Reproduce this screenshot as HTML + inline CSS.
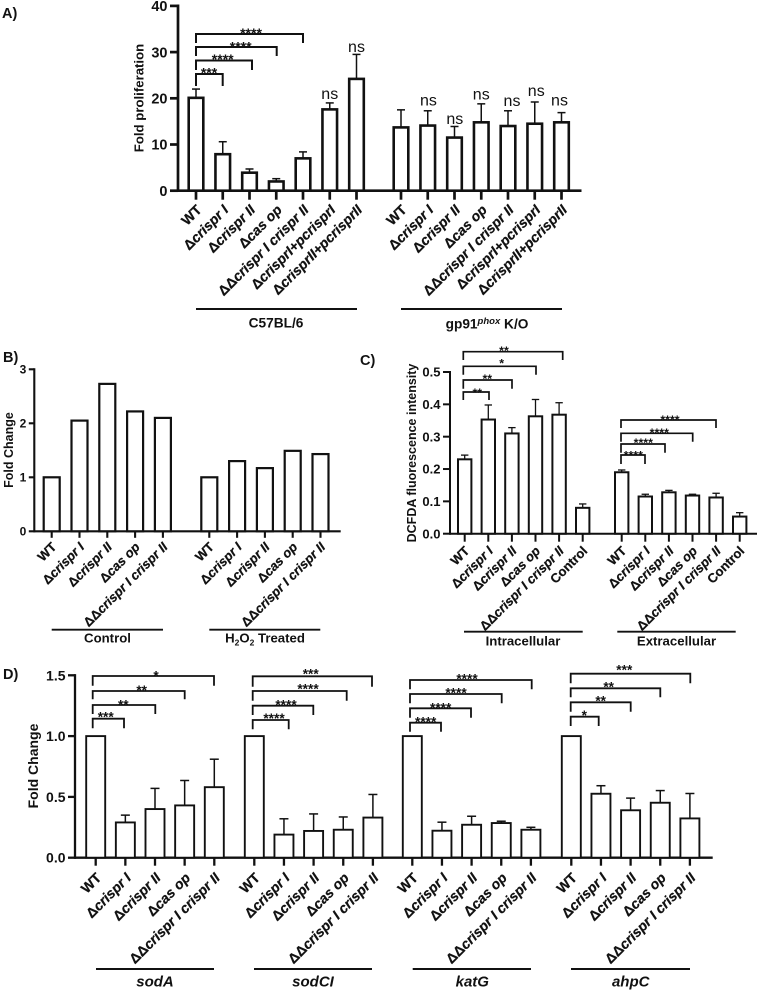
<!DOCTYPE html>
<html lang="en">
<head>
<meta charset="utf-8">
<title>Panels A-D: fold proliferation and oxidative stress bar charts</title>
<style>
html,body{margin:0;padding:0;background:#fff;width:759px;height:992px;overflow:hidden}
svg{display:block}
text{font-family:"Liberation Sans","DejaVu Sans",sans-serif;fill:#111}
</style>
</head>
<body>
<svg id="figure" width="759" height="992" viewBox="0 0 759 992" xmlns="http://www.w3.org/2000/svg"></svg>
<script>
/* ---------- data ---------- */
const sevenStrains = ['WT','Δcrispr I','Δcrispr II','Δcas op','ΔΔcrispr I crispr II','ΔcrisprI+pcrisprI','ΔcrisprII+pcrisprII'];
const fiveStrains = ['WT','Δcrispr I','Δcrispr II','Δcas op','ΔΔcrispr I crispr II'];
const sixStrains = ['WT','Δcrispr I','Δcrispr II','Δcas op','ΔΔcrispr I crispr II','Control'];

const aTicks = ['0','10','20','30','40'];
const aC57Values = [20.1,7.9,3.9,2.0,7.0,17.6,24.2];
const aC57Errors = [1.9,2.7,0.8,0.6,1.4,1.4,5.3];
const aGpValues = [13.7,14.1,11.5,14.8,14.0,14.5,14.8];
const aGpErrors = [3.8,3.2,2.4,4.0,3.3,4.7,2.1];
const aSig = ['***','****','****','****'];

const bTicks = ['0','1','2','3'];
const bControlValues = [1.0,2.05,2.73,2.22,2.1];
const bTreatedValues = [1.0,1.3,1.17,1.49,1.43];

const cTicks = ['0.0','0.1','0.2','0.3','0.4','0.5'];
const cIntraValues = [0.23,0.353,0.31,0.363,0.368,0.08];
const cIntraErrors = [0.013,0.045,0.018,0.052,0.037,0.012];
const cExtraValues = [0.19,0.115,0.128,0.118,0.112,0.053];
const cExtraErrors = [0.007,0.007,0.006,0.004,0.013,0.012];
const cIntraSig = ['**','**','*','**'];
const cExtraSig = ['****','****','****','****'];

const dTicks = ['0.0','0.5','1.0','1.5'];
const dSodAValues = [1.0,0.29,0.40,0.43,0.58];
const dSodAErrors = [0,0.06,0.17,0.205,0.23];
const dSodCIValues = [1.0,0.19,0.22,0.23,0.33];
const dSodCIErrors = [0,0.13,0.14,0.105,0.19];
const dKatGValues = [1.0,0.222,0.271,0.285,0.23];
const dKatGErrors = [0,0.07,0.07,0.015,0.02];
const dAhpCValues = [1.0,0.526,0.39,0.452,0.323];
const dAhpCErrors = [0,0.066,0.1,0.1,0.205];
const dSodASig = ['***','**','**','*'];
const dSodCISig = ['****','****','****','***'];
const dKatGSig = ['****','****','****','****'];
const dAhpCSig = ['*','**','**','***'];

/* ---------- helpers ---------- */
const NS = 'http://www.w3.org/2000/svg';
const svg = document.getElementById('figure');
const INK = '#111';

function make(tag, attrs, parent) {
  const el = document.createElementNS(NS, tag);
  for (const k in attrs) el.setAttribute(k, attrs[k]);
  (parent || svg).appendChild(el);
  return el;
}
function line(parent, x1, y1, x2, y2, w) {
  return make('line', {x1, y1, x2, y2, stroke: INK, 'stroke-width': w}, parent);
}
function group(name) {
  const g = make('g', {});
  
  
  return g;
}
function slug(s) {
  return s.toLowerCase().replace(/δ/g, 'delta-').replace(/[^a-z0-9]+/g, '-').replace(/-$/, '');
}

function panelLabel(text, x, y) {
  const t = make('text', {x, y, 'font-size': 14.5, 'font-weight': 'bold'});
  t.textContent = text;
  
  
}

/* axis: p = {id,y0,k,axisX,axisEnd,tickLen,axisW,tickFont,...} */
function yPos(p, v) { return p.y0 - v * p.k; }

function drawAxes(p, ticks, title) {
  const g = group(p.id + '-axes');
  const top = yPos(p, parseFloat(ticks[ticks.length - 1]));
  const yAxis = line(g, p.axisX, top - p.axisW / 2, p.axisX, p.y0 + p.axisW / 2, p.axisW);
  
  
  const xAxis = line(g, p.axisX, p.y0, p.axisEnd, p.y0, p.axisW);
  
  
  ticks.forEach(function (label) {
    const y = yPos(p, parseFloat(label));
    const tick = line(g, p.axisX - p.tickLen, y, p.axisX, y, p.axisW);
    
    
    const t = make('text', {x: p.axisX - p.tickLen - 2.5, y: y + p.tickFont * 0.36, 'text-anchor': 'end', 'font-size': p.tickFont, 'font-weight': 'bold'}, g);
    t.textContent = label;
    
    
  });
  const ty = make('text', {transform: 'translate(' + p.titleX + ',' + p.titleY + ') rotate(-90)', 'text-anchor': 'middle', 'font-size': p.titleFont, 'font-weight': 'bold'}, g);
  ty.textContent = title;
  
  
}

function drawCategoryLabel(g, p, text, x) {
  const t = make('text', {transform: 'translate(' + (x + p.labelDx) + ',' + (p.y0 + p.labelDy) + ') rotate(-45)', 'text-anchor': 'end', 'font-size': p.labelFont, 'font-weight': 'bold', stroke: INK, 'stroke-width': 0.25}, g);
  const m = text.match(/^(Δ+)(.*)$/);
  if (m) {
    const d = make('tspan', {}, t);
    d.textContent = m[1];
    const r = make('tspan', {'font-style': 'italic'}, t);
    r.textContent = m[2];
  } else {
    t.textContent = text;
  }
  
  
}

function drawSeries(p, name, cats, values, errors, x0, step) {
  const g = group(p.id + '-series-' + name);
  const xOf = function (i) { return x0 + i * step; };
  cats.forEach(function (cat, i) {
    const x = xOf(i);
    const yv = yPos(p, values[i]);
    if (errors && errors[i] > 0) {
      const ye = yPos(p, values[i] + errors[i]);
      const stem = line(g, x, yv, x, ye, p.errW);
      
      
      const cap = line(g, x - p.capHalf, ye, x + p.capHalf, ye, p.errW);
      
      
    }
    const bar = make('rect', {x: x - p.barW / 2, y: yv, width: p.barW, height: p.y0 - yv, fill: '#fff', stroke: INK, 'stroke-width': p.barStroke}, g);
    
    
    const tick = line(g, x, p.y0, x, p.y0 + p.tickLen + 1, p.axisW);
    
    
    drawCategoryLabel(g, p, cat, x);
  });
  return {xOf: xOf, values: values, errors: errors, g: g};
}

function bracket(parent, x1, x2, yTop, drop1, drop2, w) {
  const b = make('path', {d: 'M' + x1 + ' ' + (yTop + drop1) + 'V' + yTop + 'H' + x2 + 'V' + (yTop + drop2), fill: 'none', stroke: INK, 'stroke-width': w}, parent);
  
  
}
function stars(parent, text, cx, cy, size) {
  const t = make('text', {x: cx, y: cy + size * 0.56, 'text-anchor': 'middle', 'font-size': size, 'font-weight': 'bold'}, parent);
  t.textContent = text;
  
  
}
function sigSet(name, sig, left, w, size, rows) {
  const g = group(name);
  rows.forEach(function (r, i) {
    bracket(g, left, r[0], r[1], r[2], r[2], w);
    stars(g, sig[i], r[3], r[4], size);
  });
}
function groupLine(name, x1, x2, y, w) {
  const l = line(svg, x1, y, x2, y, w);
  
  
}
function groupText(name, x, y, size, italic) {
  const t = make('text', {x, y, 'text-anchor': 'middle', 'font-size': size, 'font-weight': 'bold', 'font-style': italic ? 'italic' : 'normal'});
  t.textContent = name;
  
  
  return t;
}
function nsLabel(series, i, dx, gap, size) {
  const p = series.panel;
  const t = make('text', {x: series.xOf(i) + dx, y: yPos(p, series.values[i] + series.errors[i]) - gap, 'text-anchor': 'middle', 'font-size': size}, series.g);
  t.textContent = 'ns';
  
  
}

/* ---------- panel A ---------- */
panelLabel('A)', 2, 18);
const pA = {id:'panel-a', y0:190.7, k:4.62, axisX:178, axisEnd:581.5, tickLen:8, axisW:2.7, tickFont:14.5,
  titleX:143.5, titleY:98, titleFont:13.2, labelDx:6.5, labelDy:20, labelFont:14,
  barW:14.6, barStroke:2.6, errW:1.5, capHalf:4, };
drawAxes(pA, aTicks, 'Fold proliferation');
const sA1 = drawSeries(pA, 'c57bl6', sevenStrains, aC57Values, aC57Errors, 196, 26.75);
sA1.panel = pA;
const sA2 = drawSeries(pA, 'gp91phox', sevenStrains, aGpValues, aGpErrors, 401, 26.75);
sA2.panel = pA;
nsLabel(sA1, 5, 0, 4, 16);
nsLabel(sA1, 6, 0, 2.5, 16);
nsLabel(sA2, 1, 0.7, 5.5, 16);
nsLabel(sA2, 2, 0.3, 2.5, 16);
nsLabel(sA2, 3, 0, 4.3, 16);
nsLabel(sA2, 4, 4, 5, 16);
nsLabel(sA2, 5, 1.5, 6, 16);
nsLabel(sA2, 6, -2, 7, 16);
sigSet('panel-a-brackets', aSig, 196, 2, 14, [
  [222.7, 74, 12, 209, 69.7],
  [252, 60.5, 9.5, 222.7, 56],
  [276.7, 47, 9, 240.7, 43.5],
  [303, 34, 9, 251, 30]
]);
groupLine('c57bl6', 196, 357, 309, 2);
groupLine('gp91phox', 401, 562, 309, 2);
groupText('C57BL/6', 276, 327.3, 13.7);
(function () {
  const t = make('text', {x: 487, y: 328.3, 'text-anchor': 'middle', 'font-size': 13.7, 'font-weight': 'bold'});
  
  
  const a = make('tspan', {}, t); a.textContent = 'gp91';
  const b = make('tspan', {dy: -4.5, 'font-size': 9.5, 'font-style': 'italic'}, t); b.textContent = 'phox';
  const c = make('tspan', {dy: 4.5}, t); c.textContent = ' K/O';
})();

/* ---------- panel B ---------- */
panelLabel('B)', 3, 362);
const pB = {id:'panel-b', y0:531.3, k:54, axisX:34.3, axisEnd:340.7, tickLen:5.5, axisW:2.1, tickFont:12,
  titleX:13, titleY:450, titleFont:12.5, labelDx:5.5, labelDy:16.5, labelFont:13,
  barW:16, barStroke:2.2, errW:1.4, capHalf:4};
drawAxes(pB, bTicks, 'Fold Change');
drawSeries(pB, 'control', fiveStrains, bControlValues, null, 51.7, 27.8);
drawSeries(pB, 'h2o2-treated', fiveStrains, bTreatedValues, null, 209.3, 27.8);
groupLine('control', 51.7, 163, 629.7, 1.8);
groupLine('h2o2-treated', 209.3, 320.3, 629.7, 1.8);
groupText('Control', 107.5, 642.7, 13.2);
(function () {
  const t = make('text', {x: 265, y: 642.7, 'text-anchor': 'middle', 'font-size': 13.2, 'font-weight': 'bold'});
  
  
  const a = make('tspan', {}, t); a.textContent = 'H';
  const b = make('tspan', {dy: 3, 'font-size': 8.5}, t); b.textContent = '2';
  const c = make('tspan', {dy: -3}, t); c.textContent = 'O';
  const d = make('tspan', {dy: 3, 'font-size': 8.5}, t); d.textContent = '2';
  const e = make('tspan', {dy: -3}, t); e.textContent = ' Treated';
})();

/* ---------- panel C ---------- */
panelLabel('C)', 360, 365);
const pC = {id:'panel-c', y0:533.7, k:323.4, axisX:450, axisEnd:757, tickLen:7, axisW:2, tickFont:13,
  titleX:416, titleY:453, titleFont:12.5, labelDx:5.5, labelDy:18, labelFont:13,
  barW:13.4, barStroke:2, errW:1.3, capHalf:3.7};
drawAxes(pC, cTicks, 'DCFDA fluorescence intensity');
drawSeries(pC, 'intracellular', sixStrains, cIntraValues, cIntraErrors, 464.7, 23.6);
drawSeries(pC, 'extracellular', sixStrains, cExtraValues, cExtraErrors, 621.7, 23.6);
sigSet('panel-c-intracellular-brackets', cIntraSig, 463.3, 1.7, 12.4, [
  [489, 392, 8, 477.3, 390],
  [512, 380, 8.7, 487.3, 376],
  [536, 366.3, 8.4, 501.7, 360.7],
  [562.7, 351.7, 8.3, 504, 348]
]);
sigSet('panel-c-extracellular-brackets', cExtraSig, 621, 1.7, 12.4, [
  [645, 455, 9, 633.3, 452.7],
  [665, 444, 8.7, 643.3, 440],
  [692.7, 433.3, 8.4, 659.3, 430],
  [716, 420, 8, 670, 417]
]);
groupLine('intracellular', 464, 582.7, 631.7, 1.8);
groupLine('extracellular', 617.3, 735.7, 631.7, 1.8);
groupText('Intracellular', 523, 645.3, 13.2);
groupText('Extracellular', 676.5, 645.3, 13.2);

/* ---------- panel D ---------- */
panelLabel('D)', 3, 679);
const pD = {id:'panel-d', y0:857.7, k:121.6, axisX:75, axisEnd:712.7, tickLen:7, axisW:2.3, tickFont:14,
  titleX:38, titleY:766, titleFont:14, labelDx:6.5, labelDy:21, labelFont:14,
  barW:19, barStroke:1.9, errW:1.5, capHalf:4.5};
drawAxes(pD, dTicks, 'Fold Change');
drawSeries(pD, 'soda', fiveStrains, dSodAValues, dSodAErrors, 95.7, 29.65);
drawSeries(pD, 'sodci', fiveStrains, dSodCIValues, dSodCIErrors, 254.3, 29.65);
drawSeries(pD, 'katg', fiveStrains, dKatGValues, dKatGErrors, 412.3, 29.65);
drawSeries(pD, 'ahpc', fiveStrains, dAhpCValues, dAhpCErrors, 571.3, 29.65);
sigSet('panel-d-soda-brackets', dSodASig, 92.7, 1.8, 13.7, [
  [124, 718.7, 9.6, 105.7, 714],
  [155.3, 705, 9, 123.3, 701.7],
  [184.7, 691, 8.3, 141.7, 687.3],
  [214, 676, 9.7, 156, 672.7]
]);
sigSet('panel-d-sodci-brackets', dSodCISig, 252.7, 1.8, 13.7, [
  [288.7, 720, 9.3, 274, 715.3],
  [313.3, 705.7, 9.3, 286, 701.7],
  [346.7, 691, 9.7, 308, 686],
  [372, 676.3, 10.4, 310.7, 671]
]);
sigSet('panel-d-katg-brackets', dKatGSig, 410, 1.8, 13.7, [
  [441, 722.7, 9, 425.7, 719],
  [471, 708.3, 9.4, 440.7, 704.7],
  [501.7, 694, 9.3, 456, 690],
  [531.7, 680, 9.3, 467, 675.7]
]);
sigSet('panel-d-ahpc-brackets', dAhpCSig, 570.7, 1.8, 13.7, [
  [598.7, 716.7, 9.3, 584.3, 712.3],
  [630.7, 702.3, 9.4, 600.7, 697.7],
  [660.3, 688.3, 9, 608.7, 683.7],
  [690.3, 673.7, 9.6, 624.3, 667]
]);
groupLine('soda', 96, 214, 969, 1.9);
groupLine('sodci', 254, 372, 969, 1.9);
groupLine('katg', 412.7, 531, 969, 1.9);
groupLine('ahpc', 571, 690, 969, 1.9);
groupText('sodA', 155, 986.5, 15, true);
groupText('sodCI', 313, 986.5, 15, true);
groupText('katG', 472.3, 986.5, 15, true);
groupText('ahpC', 630.7, 986.5, 15, true);
</script>
</body>
</html>
